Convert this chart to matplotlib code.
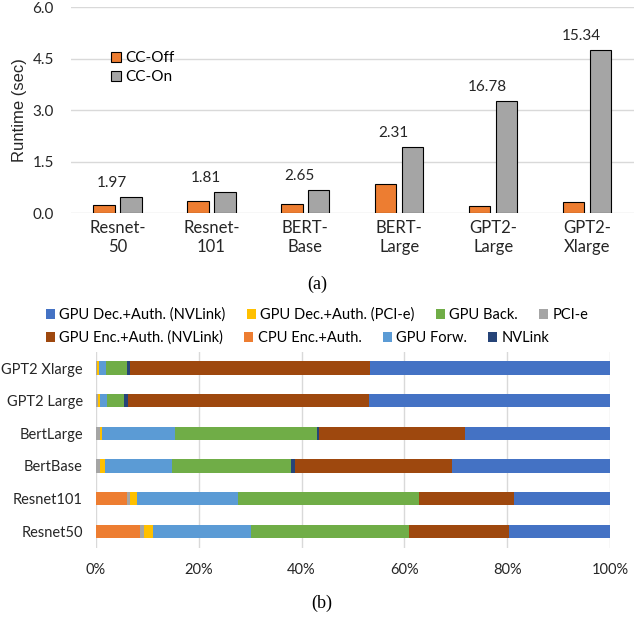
import matplotlib
matplotlib.use('Agg')
import matplotlib.pyplot as plt
import numpy as np
from matplotlib.ticker import FuncFormatter

plt.rcParams['font.family'] = ['Lato', 'DejaVu Sans']

# (a) runtime
models_a = ['Resnet-\n50', 'Resnet-\n101', 'BERT-\nBase', 'BERT-\nLarge', 'GPT2-\nLarge', 'GPT2-\nXlarge']
cc_off = [0.24, 0.35, 0.28, 0.84, 0.21, 0.32]
cc_on = [0.47, 0.62, 0.68, 1.94, 3.28, 4.77]
slowdown = ['1.97', '1.81', '2.65', '2.31', '16.78', '15.34']

# (b) breakdown, bottom row first
models_b = ['Resnet50', 'Resnet101', 'BertBase', 'BertLarge', 'GPT2 Large', 'GPT2 Xlarge']
cpu_enc = [8.6, 6.0, 0.0, 0.0, 0.0, 0.0]
pcie = [0.7, 0.7, 0.8, 0.8, 0.3, 0.2]
gpu_dec_pcie = [1.8, 1.3, 0.9, 0.4, 0.4, 0.3]
gpu_forw = [19.0, 19.6, 13.1, 14.1, 1.4, 1.5]
gpu_back = [30.8, 35.2, 23.1, 27.7, 3.3, 4.0]
nvlink = [0.0, 0.0, 0.8, 0.4, 0.8, 0.6]
gpu_enc_nv = [19.5, 18.5, 30.6, 28.3, 46.9, 46.7]
gpu_dec_nv = [19.6, 18.7, 30.7, 28.3, 46.9, 46.7]

W, H = 644, 621
fig = plt.figure(figsize=(W / 100, H / 100), dpi=100)

grid_c = '#D9D9D9'

# ---------------- top chart ----------------
ax1 = fig.add_axes([70.6 / W, 1 - 213.3 / H, (634 - 70.6) / W, (213.3 - 7.3) / H])
x = np.arange(len(models_a))
bw = 0.227
b_off = ax1.bar(x - 0.143, cc_off, bw, color='#ED7D31', edgecolor='black', linewidth=0.8, label='CC-Off', zorder=3)
b_on = ax1.bar(x + 0.143, cc_on, bw, color='#A5A5A5', edgecolor='black', linewidth=0.8, label='CC-On', zorder=3)
for i in range(len(models_a)):
    ax1.text(x[i] - 0.06, cc_on[i] + 0.2, slowdown[i], ha='center', va='bottom', fontsize=11, color='#262626')

ax1.set_xlim(-0.5, len(models_a) - 0.5)
ax1.set_ylim(0, 6.0)
ax1.set_yticks([0, 1.5, 3.0, 4.5, 6.0])
ax1.yaxis.set_major_formatter(FuncFormatter(lambda v, p: '%.1f' % v))
ax1.set_xticks(x)
ax1.set_xticklabels(models_a, fontsize=12, linespacing=1.25)
ax1.tick_params(axis='y', length=0, pad=12, labelsize=11, labelcolor='#262626')
ax1.tick_params(axis='x', length=0, pad=5, labelcolor='#262626')
ax1.grid(axis='y', color=grid_c, linewidth=1.0, zorder=0)
ax1.set_axisbelow(True)
for s in ax1.spines.values():
    s.set_visible(False)
ax1.set_ylabel('Runtime (sec)', fontsize=12, family='Liberation Sans', color='#262626')
ax1.yaxis.set_label_coords(-0.077, 0.5)
ax1.legend(loc='center left', bbox_to_anchor=(0.072, 0.707), frameon=False, fontsize=11,
           handlelength=0.62, handleheight=0.62, handletextpad=0.3, labelspacing=0.3,
           borderpad=0, borderaxespad=0)

fig.text(317.5 / W, 1 - 284 / H, '(a)', ha='center', va='center', fontsize=13, family='Liberation Serif')

# ---------------- bottom chart ----------------
ax2 = fig.add_axes([96 / W, 1 - 547.6 / H, (610 - 96) / W, (547.6 - 351.7) / H])
series = [
    ('CPU Enc.+Auth.', cpu_enc, '#ED7D31'),
    ('PCI-e', pcie, '#A5A5A5'),
    ('GPU Dec.+Auth. (PCI-e)', gpu_dec_pcie, '#FFC000'),
    ('GPU Forw.', gpu_forw, '#5B9BD5'),
    ('GPU Back.', gpu_back, '#70AD47'),
    ('NVLink', nvlink, '#264478'),
    ('GPU Enc.+Auth. (NVLink)', gpu_enc_nv, '#9E480E'),
    ('GPU Dec.+Auth. (NVLink)', gpu_dec_nv, '#4472C4'),
]
totals = np.sum([np.array(s[1]) for s in series], axis=0)
y = np.arange(len(models_b))
left = np.zeros(len(models_b))
handles = {}
for name, vals, col in series:
    pct = np.array(vals) / totals * 100
    handles[name] = ax2.barh(y, pct, 0.4, left=left, color=col, label=name, zorder=3)
    left += pct

ax2.set_xlim(0, 100)
ax2.set_ylim(-0.5, len(models_b) - 0.5)
ax2.set_xticks(range(0, 101, 20))
ax2.xaxis.set_major_formatter(FuncFormatter(lambda v, p: '%d%%' % v))
ax2.set_yticks(y)
ax2.set_yticklabels(models_b)
ax2.tick_params(axis='x', length=0, pad=11, labelsize=10.5, labelcolor='#262626')
ax2.tick_params(axis='y', length=0, pad=9.5, labelsize=10.5, labelcolor='#262626')
ax2.grid(axis='x', color=grid_c, linewidth=1.0, zorder=0)
ax2.set_axisbelow(True)
for s in ax2.spines.values():
    s.set_visible(False)

row1 = ['GPU Dec.+Auth. (NVLink)', 'GPU Dec.+Auth. (PCI-e)', 'GPU Back.', 'PCI-e']
row2 = ['GPU Enc.+Auth. (NVLink)', 'CPU Enc.+Auth.', 'GPU Forw.', 'NVLink']
leg_kw = dict(loc='center left', ncol=4, frameon=False, fontsize=10.5, handlelength=0.62,
              handleheight=0.62, handletextpad=0.3, columnspacing=1.45, borderpad=0,
              borderaxespad=0)
fig.legend([handles[n] for n in row1], row1, bbox_to_anchor=(46 / W, 1 - 315 / H), **leg_kw)
fig.legend([handles[n] for n in row2], row2, bbox_to_anchor=(46 / W, 1 - 338 / H), **leg_kw)

fig.text(322 / W, 1 - 603 / H, '(b)', ha='center', va='center', fontsize=13, family='Liberation Serif')

fig.savefig('out.png', dpi=100)
